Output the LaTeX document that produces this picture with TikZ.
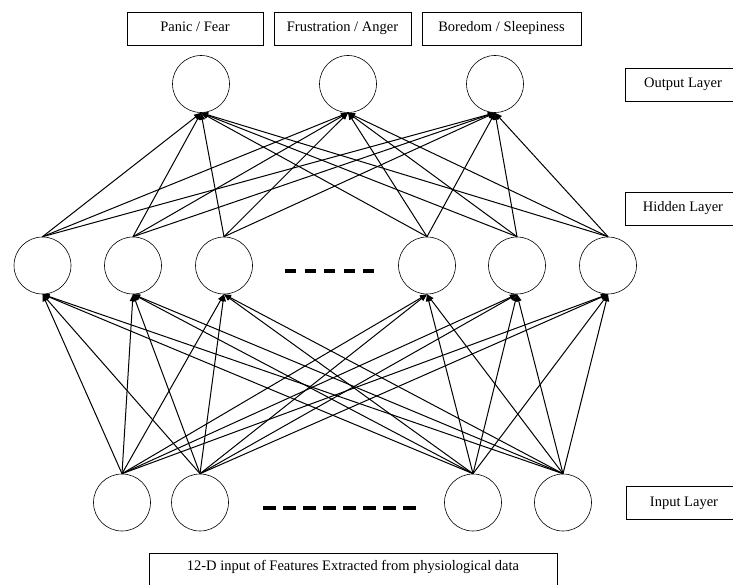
\documentclass[tikz,border=0pt]{standalone}
\usepackage{fontspec}
\setmainfont{Liberation Serif}
\usetikzlibrary{arrows.meta}
\begin{document}
\begin{tikzpicture}[x=1pt,y=-1pt,
  neuron/.style={circle,draw,line width=0.6pt,minimum size=57pt,inner sep=0pt},
  labelbox/.style={draw,line width=0.6pt,minimum height=33pt,font=\fontsize{14.5}{16}\selectfont,
    inner sep=0pt,text height=9.5pt,text depth=3.5pt},
  link/.style={line width=1pt,-{Triangle[length=7pt,width=5.5pt]}},
  gap/.style={line width=3.2pt}]
\useasboundingbox (0,0) rectangle (733,585);
\clip (0,0) rectangle (733,585);

% class labels above the output layer
\node[labelbox,minimum width=136pt] (c1) at (195,28.5) {Panic / Fear};
\node[labelbox,minimum width=137pt] (c2) at (342.5,28.5) {Frustration / Anger};
\node[labelbox,minimum width=159pt] (c3) at (501.5,28.5) {Boredom / Sleepiness};

% layer names
\node[labelbox,minimum width=116pt] (lo) at (683,84.5) {Output Layer};
\node[labelbox,minimum width=116pt] (lh) at (683,209) {Hidden Layer};
\node[labelbox,minimum width=116pt] (li) at (684,503) {Input Layer};
\node[labelbox,minimum width=408pt,minimum height=40pt,anchor=north west] (feat) at (149,553) {};
\node[font=\fontsize{14.5}{16}\selectfont,text height=9.5pt,text depth=3.5pt] (feattext) at (353,567) {12-D input of Features Extracted from physiological data};

% output layer
\node[neuron] (o1) at (201,84) {};
\node[neuron] (o2) at (348,84) {};
\node[neuron] (o3) at (495,84) {};

% hidden layer
\node[neuron] (h1) at (42.5,265.5) {};
\node[neuron] (h2) at (133,265.5) {};
\node[neuron] (h3) at (224,265.5) {};
\node[neuron] (h4) at (427,265.5) {};
\node[neuron] (h5) at (517,265.5) {};
\node[neuron] (h6) at (608,265.5) {};

% input layer
\node[neuron] (i1) at (122,502.5) {};
\node[neuron] (i2) at (200,502.5) {};
\node[neuron] (i3) at (473,502.5) {};
\node[neuron] (i4) at (563,502.5) {};

% elided neurons
\coordinate (hd1) at (285,271);
\coordinate (hd2) at (380,271);
\draw[gap,dash pattern=on 11pt off 8.5pt] (hd1) -- (hd2);
\coordinate (id1) at (263,508);
\coordinate (id2) at (422,508);
\draw[gap,dash pattern=on 13pt off 7pt] (id1) -- (id2);

% hidden -> output
\foreach \h in {h1,h2,h3,h4,h5,h6}
  \foreach \o in {o1,o2,o3}
    \draw[link] (\h.north) -- (\o.south);

% input -> hidden
\foreach \i in {i1,i2,i3,i4}
  \foreach \h in {h1,h2,h3,h4,h5,h6}
    \draw[link] (\i.north) -- (\h.south);
\end{tikzpicture}
\end{document}
